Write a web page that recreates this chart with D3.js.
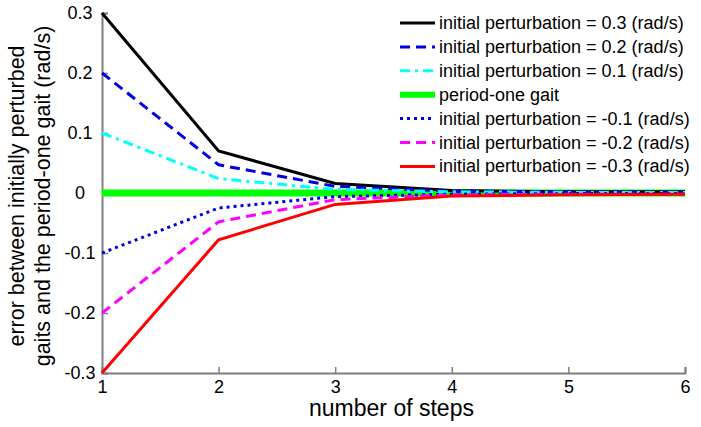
<!DOCTYPE html>
<html><head><meta charset="utf-8">
<script src="https://cdn.jsdelivr.net/npm/d3@7"></script>
<style>body{margin:0;background:#fff}svg{display:block;font-family:"Liberation Sans",Arial,sans-serif}</style>
</head><body><svg id="c" width="701" height="427"></svg>
<script>
const steps = [1, 2, 3, 4, 5, 6];
const p03 = [0.3, 0.070, 0.016, 0.004, 0.002, 0.002];
const p02 = [0.2, 0.047, 0.011, 0.003, 0.002, 0.001];
const p01 = [0.1, 0.024, 0.006, 0.002, 0.001, 0.001];
const gait = [0, 0, 0, 0, 0, 0];
const m01 = [-0.1, -0.025, -0.006, -0.002, -0.001, -0.001];
const m02 = [-0.2, -0.048, -0.011, -0.003, -0.002, -0.002];
const m03 = [-0.3, -0.078, -0.019, -0.005, -0.003, -0.002];
const xTicks = [1, 2, 3, 4, 5, 6];
const yTicks = [-0.3, -0.2, -0.1, 0, 0.1, 0.2, 0.3];
const seriesNames = ["initial perturbation = 0.3 (rad/s)", "initial perturbation = 0.2 (rad/s)", "initial perturbation = 0.1 (rad/s)", "period-one gait", "initial perturbation = -0.1 (rad/s)", "initial perturbation = -0.2 (rad/s)", "initial perturbation = -0.3 (rad/s)"];
const seriesData = [p03, p02, p01, gait, m01, m02, m03];
const styles = [
  {c:"#000000", w:3, d:null},
  {c:"#0000e0", w:3, d:"10,6"},
  {c:"#00ffff", w:3, d:"10,5,3,5"},
  {c:"#00ff00", w:7, d:null},
  {c:"#0000e0", w:3, d:"3,4"},
  {c:"#ff00ff", w:3, d:"10,6"},
  {c:"#ff0000", w:3, d:null}
];
const svg = d3.select("#c");
const x = d3.scaleLinear().domain([1, 6]).range([102, 685]);
const y = d3.scaleLinear().domain([-0.3, 0.3]).range([373, 13]);
const axisColor = "#7f7f7f";
const fmtY = d => d === 0 ? "0" : d3.format(".1f")(d).replace("\u2212", "-");
const gx = svg.append("g").attr("transform", "translate(0,373)")
  .call(d3.axisBottom(x).tickValues(xTicks).tickSize(-6).tickPadding(7).tickFormat(d3.format("d")));
const gy = svg.append("g").attr("transform", "translate(102,0)")
  .call(d3.axisLeft(y).tickValues(yTicks).tickSize(-6).tickPadding(0).tickFormat(fmtY));
[gx, gy].forEach(g => {
  g.select(".domain").attr("stroke", axisColor).attr("stroke-width", 2);
  g.selectAll(".tick line").attr("stroke", axisColor).attr("stroke-width", 1.5);
  g.selectAll("text").attr("fill", "#000").attr("font-size", 18).attr("font-family", "Liberation Sans, Arial, sans-serif");
});
gy.selectAll(".tick text").attr("text-anchor", "middle").attr("x", -22);
const line = d3.line().x((d, i) => x(steps[i])).y(d => y(d));
const order = [3, 0, 1, 2, 4, 5, 6];
order.forEach(k => {
  const s = styles[k];
  svg.append("path").datum(seriesData[k]).attr("d", line).attr("fill", "none")
    .attr("stroke", s.c).attr("stroke-width", s.w).attr("stroke-dasharray", s.d);
});
// legend
const lg = svg.append("g");
seriesNames.forEach((n, i) => {
  const s = styles[i];
  const yy = 23 + i * 23.9;
  lg.append("line").attr("x1", 400).attr("x2", 435).attr("y1", yy).attr("y2", yy)
    .attr("stroke", s.c).attr("stroke-width", i === 3 ? 6 : 3).attr("stroke-dasharray", s.d);
  lg.append("text").attr("x", 439).attr("y", yy + 6).attr("font-size", 18).text(n);
});
// axis labels
svg.append("text").attr("x", 391.5).attr("y", 416).attr("text-anchor", "middle").attr("font-size", 23).text("number of steps");
const yl = svg.append("text").attr("transform", "translate(0,196) rotate(-90)").attr("text-anchor", "middle").attr("font-size", 21.5);
yl.append("tspan").attr("x", 0).attr("y", 24).text("error between initially perturbed");
yl.append("tspan").attr("x", 0).attr("y", 49.5).text("gaits and the period-one gait (rad/s)");
</script></body></html>
